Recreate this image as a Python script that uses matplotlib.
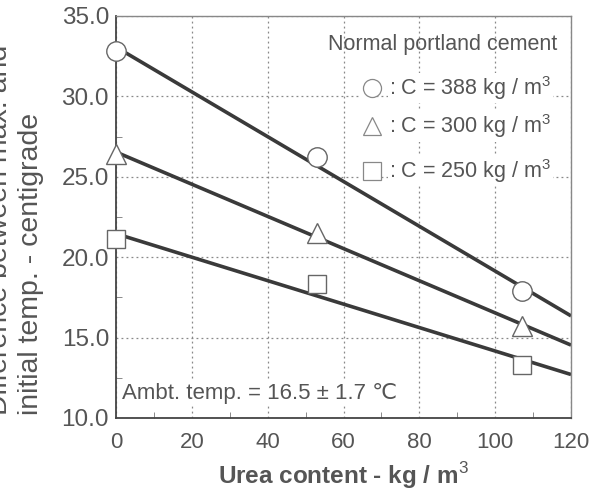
import numpy as np
import matplotlib.pyplot as plt
from matplotlib.ticker import MultipleLocator, FormatStrFormatter

plt.rcParams['font.family'] = ['Liberation Sans', 'DejaVu Sans']
plt.rcParams['mathtext.fontset'] = 'custom'
plt.rcParams['mathtext.rm'] = 'Liberation Sans'
plt.rcParams['mathtext.bf'] = 'Liberation Sans:bold'

# urea content (kg/m3) and temperature rise (deg C)
urea = [0, 53, 107]
rise_388 = [32.8, 26.2, 17.9]
rise_300 = [26.4, 21.5, 15.7]
rise_250 = [21.1, 18.3, 13.3]

series = [
    ('o', rise_388, ': C = 388 kg / m$^3$'),
    ('^', rise_300, ': C = 300 kg / m$^3$'),
    ('s', rise_250, ': C = 250 kg / m$^3$'),
]

grey = '#555555'
line_col = '#3a3a3a'

fig = plt.figure(figsize=(5.93, 4.97), dpi=100)
ax = fig.add_axes([0.1956, 0.159, 0.7674, 0.809])

xfit = np.array([0, 120])
for marker, vals, label in series:
    k, b = np.polyfit(urea, vals, 1)
    ax.plot(xfit, k * xfit + b, color=line_col, lw=2.6, zorder=2,
            solid_capstyle='butt')
    ax.plot(urea, vals, marker, ms=14 if marker != 's' else 13,
            mfc='white', mec='#666666', mew=1.0, ls='none', zorder=3,
            clip_on=False)

ax.set_xlim(0, 120)
ax.set_ylim(10, 35)
ax.xaxis.set_major_locator(MultipleLocator(20))
ax.xaxis.set_minor_locator(MultipleLocator(10))
ax.yaxis.set_major_locator(MultipleLocator(5))
ax.yaxis.set_minor_locator(MultipleLocator(2.5))
ax.yaxis.set_major_formatter(FormatStrFormatter('%.1f'))
ax.tick_params(which='both', direction='in', colors='#777777', labelcolor=grey,
               labelsize=16)
ax.tick_params(which='major', length=0)
ax.tick_params(axis='y', which='major', pad=5, labelsize=17.5)
ax.tick_params(axis='x', which='major', pad=10)
ax.tick_params(which='minor', length=4)
ax.grid(True, which='major', ls=(0, (1.5, 2.5)), color='#888888', lw=0.9)

for side in ['left', 'bottom']:
    ax.spines[side].set_color('#444444')
    ax.spines[side].set_linewidth(1.3)
for side in ['top', 'right']:
    ax.spines[side].set_color('#888888')
    ax.spines[side].set_linewidth(1.0)

ax.set_xlabel('Urea content - kg / m$^3$', fontsize=17.5, fontweight='bold',
              color=grey, labelpad=5)
fig.text(0.052, 0.165, 'initial temp. - centigrade', rotation=90,
         ha='center', va='bottom', fontsize=20.5, color=grey)
fig.text(0.0, 0.165, 'Difference between max. and', rotation=90,
         ha='center', va='bottom', fontsize=20.5, color=grey)

ax.text(0.969, 0.928, 'Normal portland cement', transform=ax.transAxes,
        ha='right', va='center', fontsize=15.5, color=grey)
leg_y = [0.821, 0.725, 0.615]
for (marker, vals, label), yy in zip(series, leg_y):
    ax.text(0.545, yy, ' ', transform=ax.transAxes, ha='left',
            va='center', fontsize=15.5, bbox=dict(fc='white', ec='none', pad=3))
    ax.plot([0.563], [yy], marker, transform=ax.transAxes, ms=13,
            mfc='white', mec='#888888', mew=0.9, zorder=4)
    ax.text(0.600, yy, label, transform=ax.transAxes, ha='left',
            va='center', fontsize=15.5, color=grey,
            bbox=dict(fc='white', ec='none', pad=1))

ax.text(0.013, 0.062, 'Ambt. temp. = 16.5 ± 1.7 ℃', transform=ax.transAxes,
        ha='left', va='center', fontsize=16, color=grey,
        bbox=dict(fc='white', ec='none', pad=1))

fig.savefig('out.png', dpi=100)
